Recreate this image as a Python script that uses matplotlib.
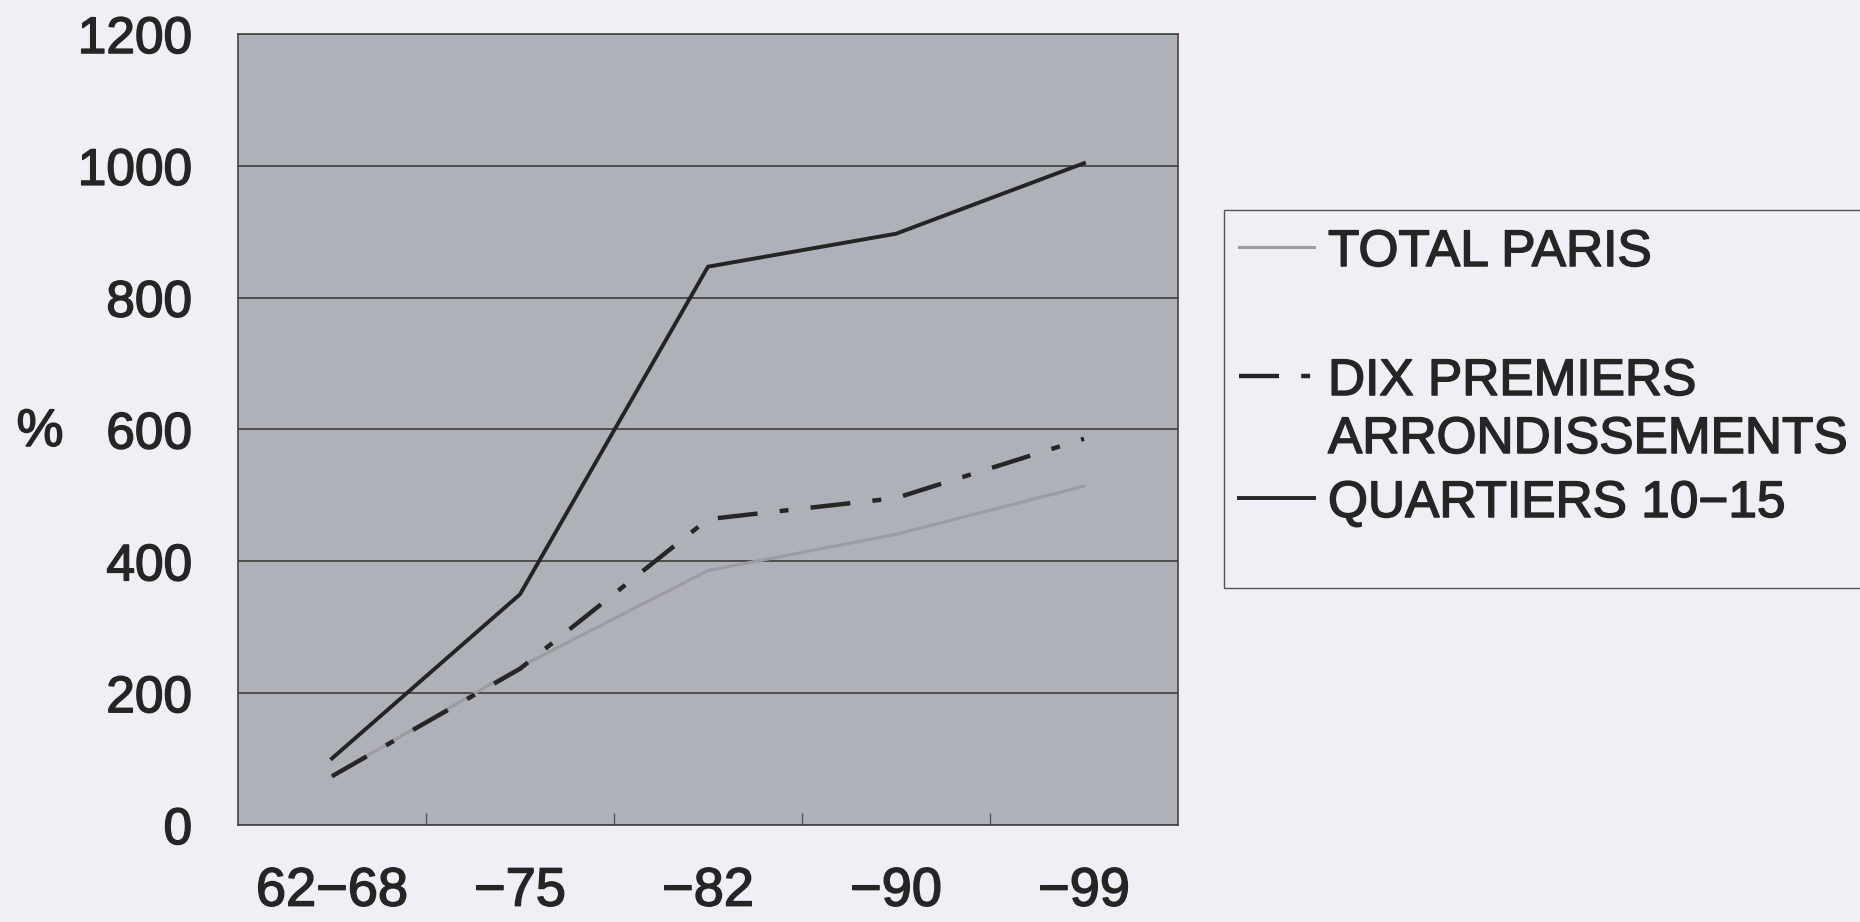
import matplotlib
matplotlib.use("Agg")
import matplotlib.pyplot as plt
import matplotlib.patheffects as pe
from matplotlib.lines import Line2D
from matplotlib.patches import Rectangle
import numpy as np

periods = ["62\u221268", "\u221275", "\u221282", "\u221290", "\u221299"]
total_paris = [74, 240, 386, 441, 514]
dix_premiers = [74, 237, 464, 496, 586]
quartiers = [101, 350, 847, 897, 1004]

W, H = 1860, 922
TXT = '#252525'
plt.rcParams['font.family'] = ['Liberation Sans', 'DejaVu Sans']

# slightly heavier strokes for all text
heavy = [pe.withStroke(linewidth=1.1, foreground=TXT)]

fig = plt.figure(figsize=(W / 100, H / 100), dpi=100, facecolor='#f1eef6')
ax = fig.add_axes([238 / W, 1 - 825 / H, 940 / W, 791 / H])
ax.set_facecolor('#afb1b9')

styles = {
    'total': dict(color='#9c9ca2', lw=2.2),
    'dix': dict(color='#262626', lw=3.2, dashes=(9, 5, 2, 5)),
    'quart': dict(color='#242424', lw=2.8),
}

x = np.arange(len(periods))
ax.plot(x, total_paris, **styles['total'])
ax.plot(x, dix_premiers, **styles['dix'])
ax.plot(x, quartiers, **styles['quart'])

ax.set_xlim(-0.5, len(periods) - 0.5)
ax.set_ylim(0, 1200)
ax.set_yticks(range(0, 1201, 200))
ax.yaxis.grid(True, color='#3c3c3c', lw=1.2)
ax.set_axisbelow(True)

# category labels centred on points, tick marks between categories
ax.set_xticks(x)
ax.set_xticklabels(periods)
ax.set_xticks(np.arange(0.5, len(periods) - 0.5, 1), minor=True)
ax.tick_params(axis='x', which='major', length=0, pad=30, labelsize=39,
               colors=TXT)
ax.tick_params(axis='x', which='minor', direction='in', length=9,
               color='#555555', width=1)
ax.tick_params(axis='y', length=0, pad=33, labelsize=37, colors=TXT)
for s in ax.spines.values():
    s.set_color('#444444')
    s.set_linewidth(1.2)
for lbl in ax.get_xticklabels() + ax.get_yticklabels():
    lbl.set_path_effects(heavy)

fig.text(40 / W, 1 - 432 / H, '%', fontsize=38, color=TXT,
         ha='center', va='center', path_effects=heavy)

# legend box, drawn by hand so the dash-dot key sits on the first text line
fig.add_artist(Rectangle((1224 / W, 1 - 588 / H), 700 / W, 378 / H,
                         transform=fig.transFigure, facecolor='none',
                         edgecolor='#555555', lw=1.0, clip_on=False))
entries = [
    ('TOTAL PARIS', 247, 'total'),
    ('DIX PREMIERS', 376, 'dix'),
    ('ARRONDISSEMENTS', 434, None),
    ('QUARTIERS 10\u221215', 498, 'quart'),
]
for label, ypix, key in entries:
    yf = 1 - ypix / H
    if key is not None:
        fig.add_artist(Line2D([1239 / W, 1314 / W], [yf, yf],
                              transform=fig.transFigure, **styles[key]))
    fig.text(1328 / W, yf, label, fontsize=37, color=TXT,
             ha='left', va='center_baseline', path_effects=heavy)

fig.savefig('out.png', dpi=100, facecolor=fig.get_facecolor())
